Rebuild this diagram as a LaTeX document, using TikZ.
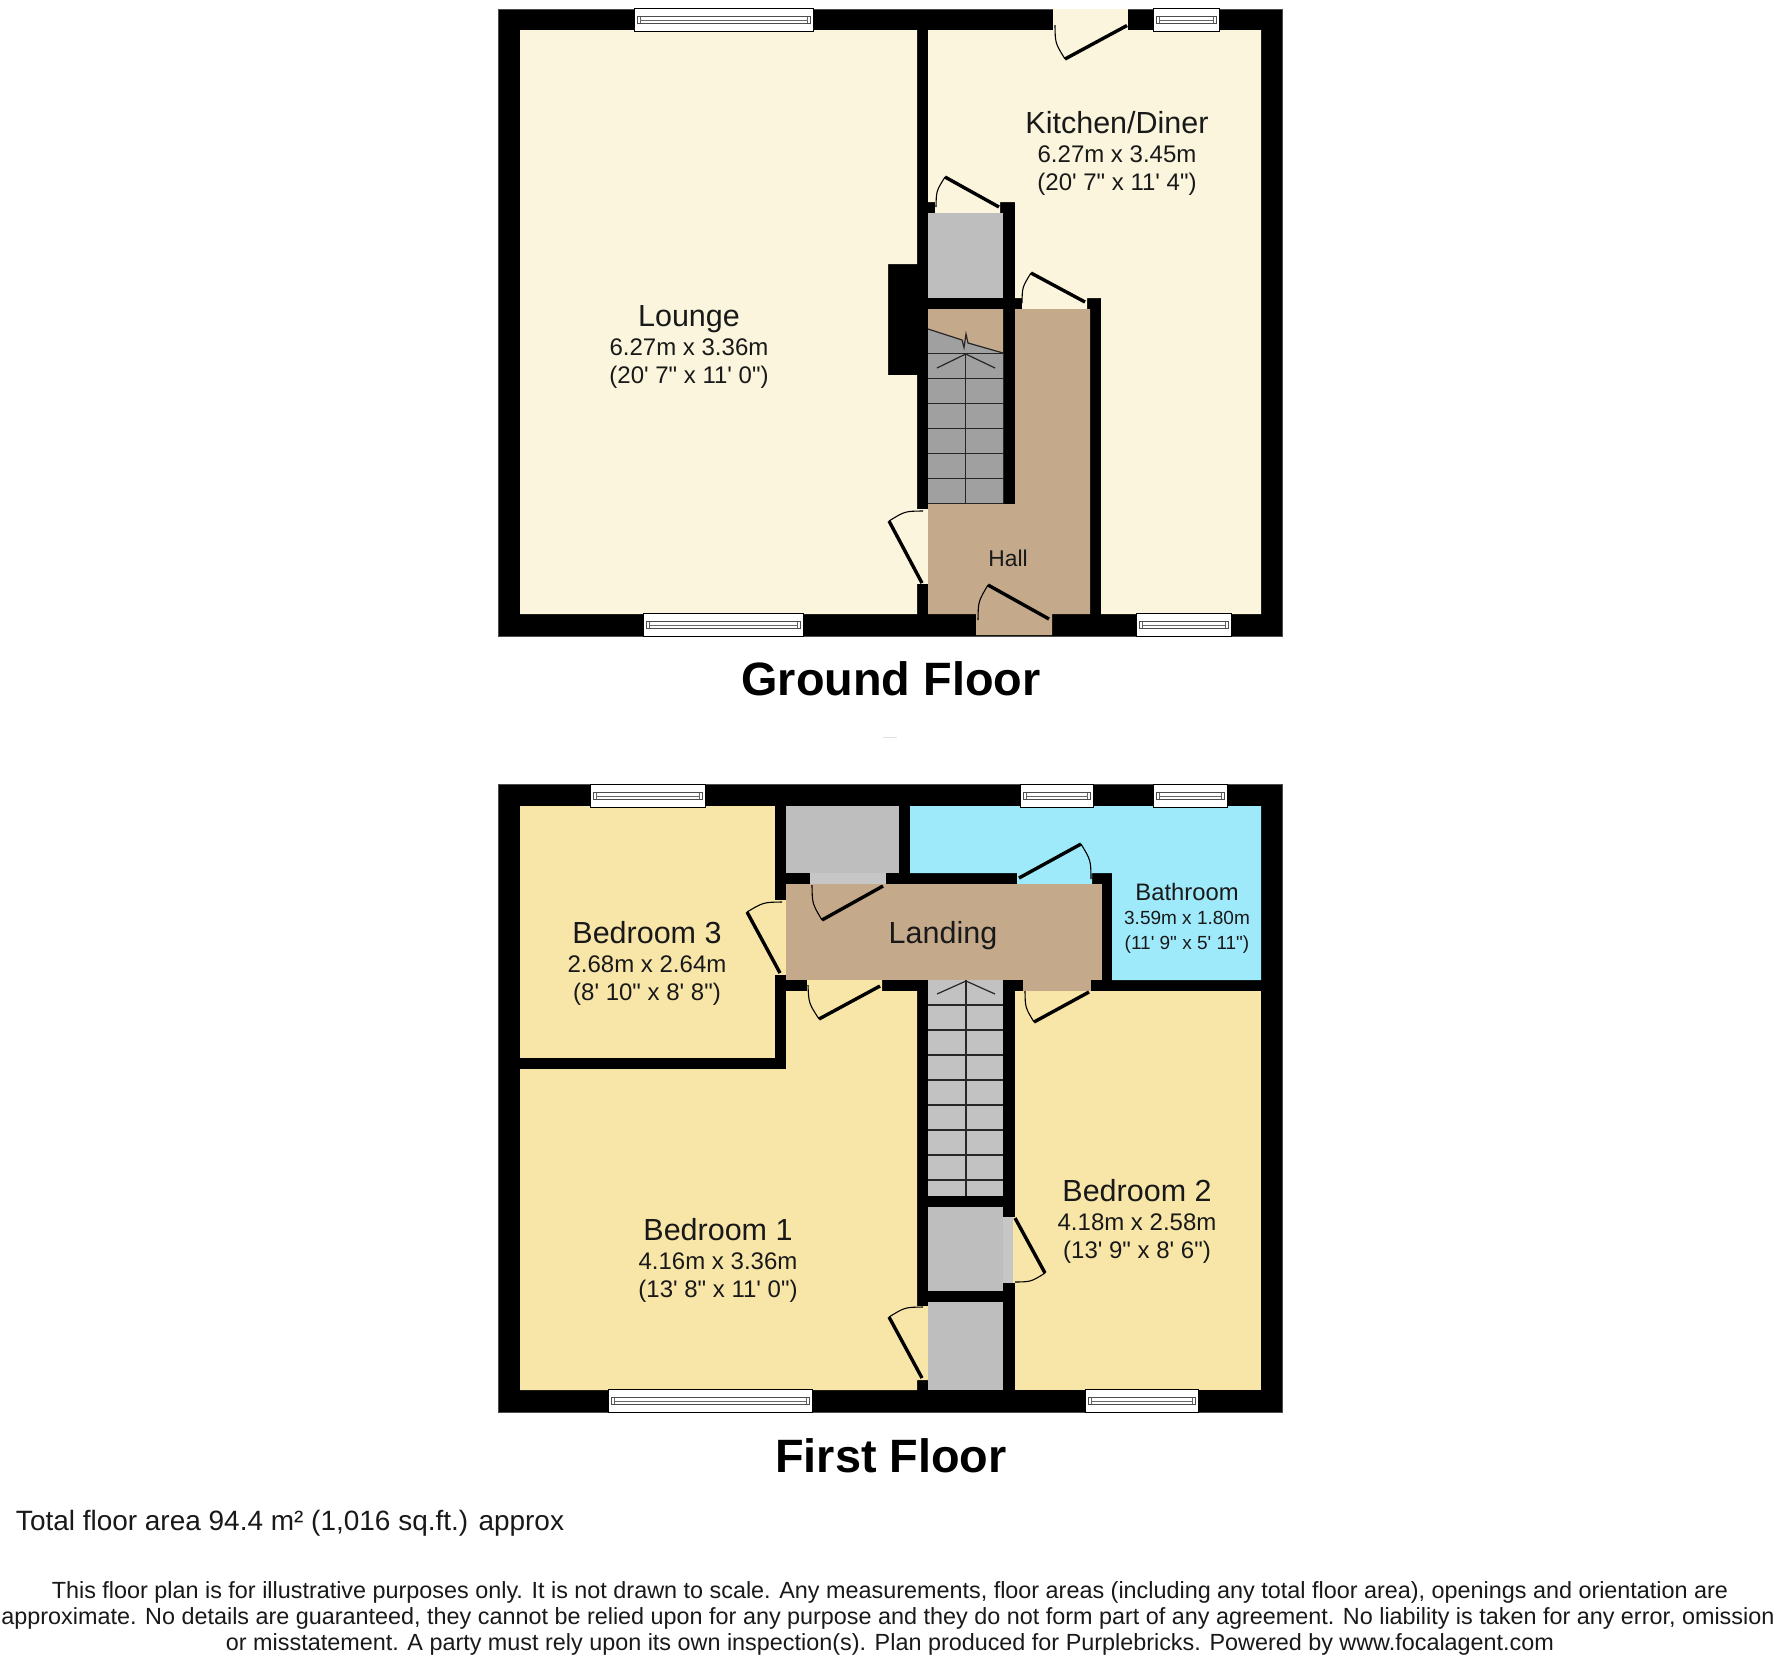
\documentclass[tikz,border=0pt]{standalone}
\usepackage{fontspec}
\newfontfamily\lib{Liberation Sans}
\usetikzlibrary{calc}
\definecolor{cream}{HTML}{FAF5DC}
\definecolor{bedc}{HTML}{F8E6A8}
\definecolor{hallc}{HTML}{C4A98A}
\definecolor{cupc}{HTML}{BEBEBE}
\definecolor{openc}{HTML}{C6C6C6}
\definecolor{stairA}{HTML}{A0A0A0}
\definecolor{stairB}{HTML}{C2C2C2}
\definecolor{bathc}{HTML}{9FEAFA}
\tikzset{
  wallblock/.style={fill=black,draw=black!70,line width=0.3pt},
  leaf/.style={line width=1.7pt,draw=black},
  swing/.style={line width=0.55pt,draw=black},
  tread/.style={line width=0.6pt,draw=black!85},
  winframe/.style={fill=white,draw=black,line width=0.45pt},
  wininner/.style={fill=white,draw=black!70,line width=0.45pt},
  txt/.style={inner sep=0pt,outer sep=0pt,anchor=base,text=black!90},
  ttl/.style={txt,font=\lib\fontsize{15.25pt}{18pt}\selectfont},
  dim/.style={txt,font=\lib\fontsize{12pt}{14pt}\selectfont},
  ttls/.style={txt,font=\lib\fontsize{11.9pt}{14pt}\selectfont},
  dims/.style={txt,font=\lib\fontsize{9.5pt}{12pt}\selectfont},
  hall/.style={txt,font=\lib\fontsize{11.4pt}{14pt}\selectfont},
  head/.style={txt,text=black,font=\lib\fontsize{23.4pt}{28pt}\selectfont\bfseries},
  total/.style={txt,anchor=base west,font=\lib\fontsize{13.98pt}{16pt}\selectfont},
  foot/.style={txt,font=\lib\fontsize{11.69pt}{14pt}\selectfont},
}
\newcommand{\wnd}[4]{%
  \path[winframe] (#1,#3) rectangle (#2,#4);
  \path[wininner] ({#1+3},{(#3+#4)/2-3}) rectangle ({#2-3},{(#3+#4)/2+3.6});
  \draw[black!60,line width=0.3pt] ({#1+6},{(#3+#4)/2-3}) -- ({#1+6},{(#3+#4)/2+3.6})
        ({#2-6},{(#3+#4)/2-3}) -- ({#2-6},{(#3+#4)/2+3.6});
  \draw[black!60,line width=0.3pt] ({#1+6},{(#3+#4)/2+0.3}) -- ({#2-6},{(#3+#4)/2+0.3});
}
% hinge, tip, jamb
\newcommand{\doorsw}[6]{%
  \draw[leaf] (#1,#2) -- (#3,#4);
  \draw[swing] (#3,#4) .. controls ($(#1,#2)!1.072!($(#3,#4)!.5!(#5,#6)$)$) .. (#5,#6);
}
\begin{document}
\begin{tikzpicture}[x=0.5pt,y=-0.5pt]
\useasboundingbox (0,0) rectangle (1776,1656);
\fill[white] (0,0) rectangle (1776,1656);

% ===== Ground floor =====
\path[wallblock] (498,9) rectangle (1282,636);
\fill[cream] (520,30) -- (917,30) -- (917,264) -- (888,264) -- (888,375) -- (917,375) -- (917,614) -- (520,614) -- cycle;
\fill[cream] (917,509) rectangle (928,584);
\fill[cream] (928,30) -- (1261,30) -- (1261,614) -- (1101,614) -- (1101,298) -- (1087,298) -- (1087,309) -- (1022,309) -- (1022,298) -- (1015,298) -- (1015,202) -- (1000,202) -- (1000,213) -- (935,213) -- (935,202) -- (928,202) -- cycle;
\fill[cupc] (928,213) rectangle (1003,298);
\fill[hallc] (928,309) -- (1003,309) -- (1003,504) -- (1015,504) -- (1015,309) -- (1090,309) -- (1090,614) -- (1052,614) -- (1052,635) -- (976,635) -- (976,614) -- (928,614) -- cycle;
% kitchen back door opening
\fill[cream] (1053,9) rectangle (1128,30);
% stairs
\fill[stairA] (928,329) -- (1003,353) -- (1003,503.5) -- (928,503.5) -- cycle;
\foreach \yy in {353.3,378.7,403.7,428.3,453.3,478.3,503.3} \draw[tread] (928,\yy) -- (1003,\yy);
\draw[tread] (965.7,353.3) -- (965.7,503.3);
\draw[tread] (937,368) -- (965.7,354) -- (995,368);
\draw[tread] (928,329) -- (962,340) -- (964,347.5) -- (966,334) -- (968,343) -- (1003,353);
% windows
\wnd{634}{813}{8}{31}
\wnd{1153}{1219}{8}{31}
\wnd{643}{803}{613}{636}
\wnd{1136}{1231}{613}{636}
% doors
\doorsw{1127}{25.5}{1065}{59}{1055}{25}
\doorsw{999}{207}{945}{177}{936}{207}
\doorsw{1085}{302}{1031}{273}{1022}{303}
\doorsw{922}{583}{889}{521}{923}{511}
\doorsw{1049}{619}{988}{585}{978}{620}
% text
\node[ttl] (loungeA) at (689,326.5) {Lounge};
\node[dim] (loungeB) at (689,355.5) {6.27m x 3.36m};
\node[dim] (loungeC) at (689,383) {(20' 7" x 11' 0")};
\node[ttl] (kitA) at (1117,133) {Kitchen/Diner};
\node[dim] (kitB) at (1117,162) {6.27m x 3.45m};
\node[dim] (kitC) at (1117,190) {(20' 7" x 11' 4")};
\node[hall] (hallA) at (1008,566) {Hall};
\node[head] (gf) at (891,695) {Ground Floor};
\draw[black!12,line width=0.4pt] (883,737) -- (897,737);

% ===== First floor =====
\path[wallblock] (498,784) rectangle (1282,1412);
\fill[bedc] (520,806) rectangle (775,1058);
\fill[bedc] (775,900) rectangle (786,975);
\fill[cupc] (786,806) rectangle (899,873);
\fill[openc] (810,873) rectangle (886,884);
\fill[bathc] (910,806) -- (1261,806) -- (1261,980) -- (1112,980) -- (1112,873) -- (1092,873) -- (1092,884) -- (1017,884) -- (1017,873) -- (910,873) -- cycle;
\fill[hallc] (786,884) rectangle (1102,980);
\fill[hallc] (1023,980) rectangle (1091,991);
\fill[bedc] (807,980) -- (882,980) -- (882,991) -- (917,991) -- (917,1306) -- (928,1306) -- (928,1380) -- (917,1380) -- (917,1390) -- (520,1390) -- (520,1069) -- (786,1069) -- (786,991) -- (807,991) -- cycle;
\fill[bedc] (1015,991) rectangle (1261,1390);
\fill[stairB] (928,980) rectangle (1003,1196);
\foreach \yy in {1005,1030,1055,1080,1105,1130,1155,1180} \draw[tread] (928,\yy) -- (1003,\yy);
\draw[tread] (966,980) -- (966,1196);
\draw[tread] (937,994) -- (966,981) -- (995,994);
\fill[cupc] (928,1207) rectangle (1003,1291);
\fill[openc] (1003,1217) rectangle (1013,1283);
\fill[bedc] (1013,1217) rectangle (1015,1283);
\fill[cupc] (928,1302) rectangle (1003,1390);
% windows
\wnd{590}{705}{784}{807}
\wnd{1020}{1093}{784}{807}
\wnd{1153}{1227}{784}{807}
\wnd{608}{812}{1389}{1412}
\wnd{1085}{1198}{1389}{1412}
% doors
\doorsw{780}{973}{747}{912}{782}{902}
\doorsw{883}{886}{822}{920}{812}{885}
\doorsw{880}{986}{819}{1019}{808}{985}
\doorsw{1089}{992}{1034}{1022}{1025}{991}
\doorsw{1019}{878}{1081}{844}{1091}{879}
\doorsw{922}{1378}{889}{1317}{923}{1307}
\doorsw{1015}{1218}{1045}{1273}{1015}{1282}
% text
\node[ttl] (bthA) at (647,943) {Bedroom 3};
\node[dim] (bthB) at (647,972) {2.68m x 2.64m};
\node[dim] (bthC) at (647,1000) {(8' 10" x 8' 8")};
\node[ttl] (landA) at (943,943) {Landing};
\node[ttls] (bathA) at (1187,900) {Bathroom};
\node[dims] (bathB) at (1187,924) {3.59m x 1.80m};
\node[dims] (bathC) at (1187,949) {(11' 9" x 5' 11")};
\node[ttl] (boneA) at (718,1240) {Bedroom 1};
\node[dim] (boneB) at (718,1269) {4.16m x 3.36m};
\node[dim] (boneC) at (718,1297) {(13' 8" x 11' 0")};
\node[ttl] (btwA) at (1137,1201) {Bedroom 2};
\node[dim] (btwB) at (1137,1230) {4.18m x 2.58m};
\node[dim] (btwC) at (1137,1258) {(13' 9" x 8' 6")};
\node[head] (ff) at (891,1472) {First Floor};

% ===== Footer =====
\node[total] (tot) at (16,1530) {Total floor area 94.4 m² (1,016 sq.ft.) approx};
\node[foot] (fa) at (890,1598) {This floor plan is for illustrative purposes only. It is not drawn to scale. Any measurements, floor areas (including any total floor area), openings and orientation are};
\node[foot] (fb) at (888,1624) {approximate. No details are guaranteed, they cannot be relied upon for any purpose and they do not form part of any agreement. No liability is taken for any error, omission};
\node[foot] (fc) at (890,1650) {or misstatement. A party must rely upon its own inspection(s). Plan produced for Purplebricks. Powered by www.focalagent.com};
\end{tikzpicture}
\end{document}
